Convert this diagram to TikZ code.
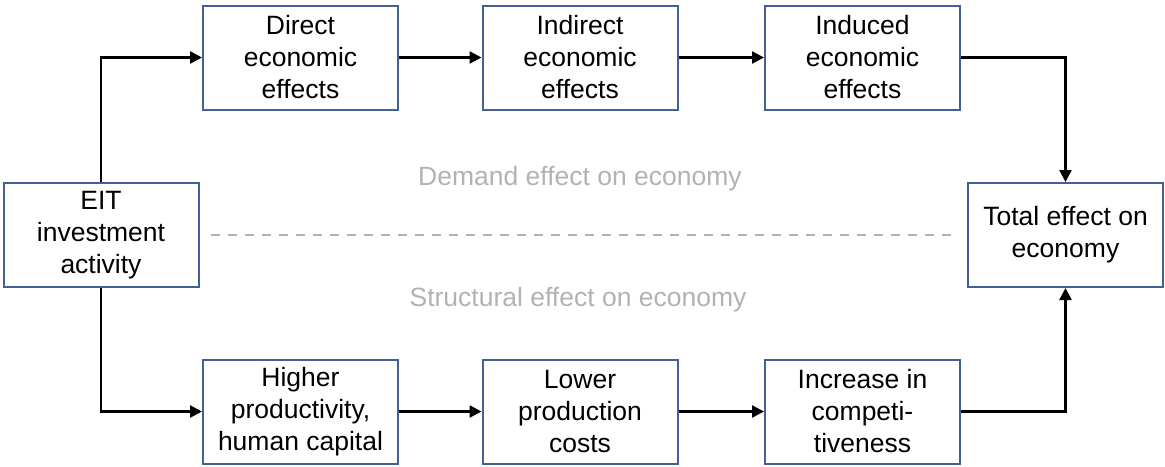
\documentclass[tikz,border=0pt]{standalone}
\usepackage{fontspec}
\setmainfont{Liberation Sans}
\usetikzlibrary{arrows.meta}
\definecolor{boxblue}{RGB}{64,96,150}
\definecolor{lightgray}{RGB}{178,178,178}
\tikzset{
  box/.style={draw=boxblue, line width=2pt, fill=white, minimum width=195pt, minimum height=104pt,
    inner sep=0pt, align=center, font=\fontsize{26.5}{32}\selectfont, text=black},
  conn/.style={line width=2.4pt, -{Triangle[length=12pt,width=12pt]}},
  sep/.style={draw=lightgray, line width=2pt, dash pattern=on 9pt off 8pt},
  note/.style={text=lightgray, font=\fontsize{26.5}{32}\selectfont, inner sep=0pt}
}
\begin{document}
\begin{tikzpicture}[x=1pt,y=-1pt]
\useasboundingbox (0,0) rectangle (1165,466);
\node[box] (eit) at (101,235) {EIT\\investment\\activity};
\node[box] (direct) at (300.5,57.5) {Direct\\economic\\effects};
\node[box] (indirect) at (580,57.5) {Indirect\\economic\\effects};
\node[box] (induced) at (862.5,57.5) {Induced\\economic\\effects};
\node[box] (total) at (1065.5,235) {Total effect on\\economy};
\node[box] (higher) at (300.5,411.5) {Higher\\productivity,\\human capital};
\node[box] (lower) at (580,411.5) {Lower\\production\\costs};
\node[box] (increase) at (862.5,411.5) {Increase in\\competi-\\tiveness};
\node[note] (demand) at (580,179) {Demand effect on economy};
\node[note] (structural) at (578,300) {Structural effect on economy};
\draw[sep] ([xshift=11pt]eit.east) -- ([xshift=-10pt]total.west);
\draw[conn] (eit.north) |- (direct.west);
\draw[conn] (direct.east) -- (indirect.west);
\draw[conn] (indirect.east) -- (induced.west);
\draw[conn] (induced.east) -| (total.north);
\draw[conn] (eit.south) |- (higher.west);
\draw[conn] (higher.east) -- (lower.west);
\draw[conn] (lower.east) -- (increase.west);
\draw[conn] (increase.east) -| (total.south);
\end{tikzpicture}
\end{document}
